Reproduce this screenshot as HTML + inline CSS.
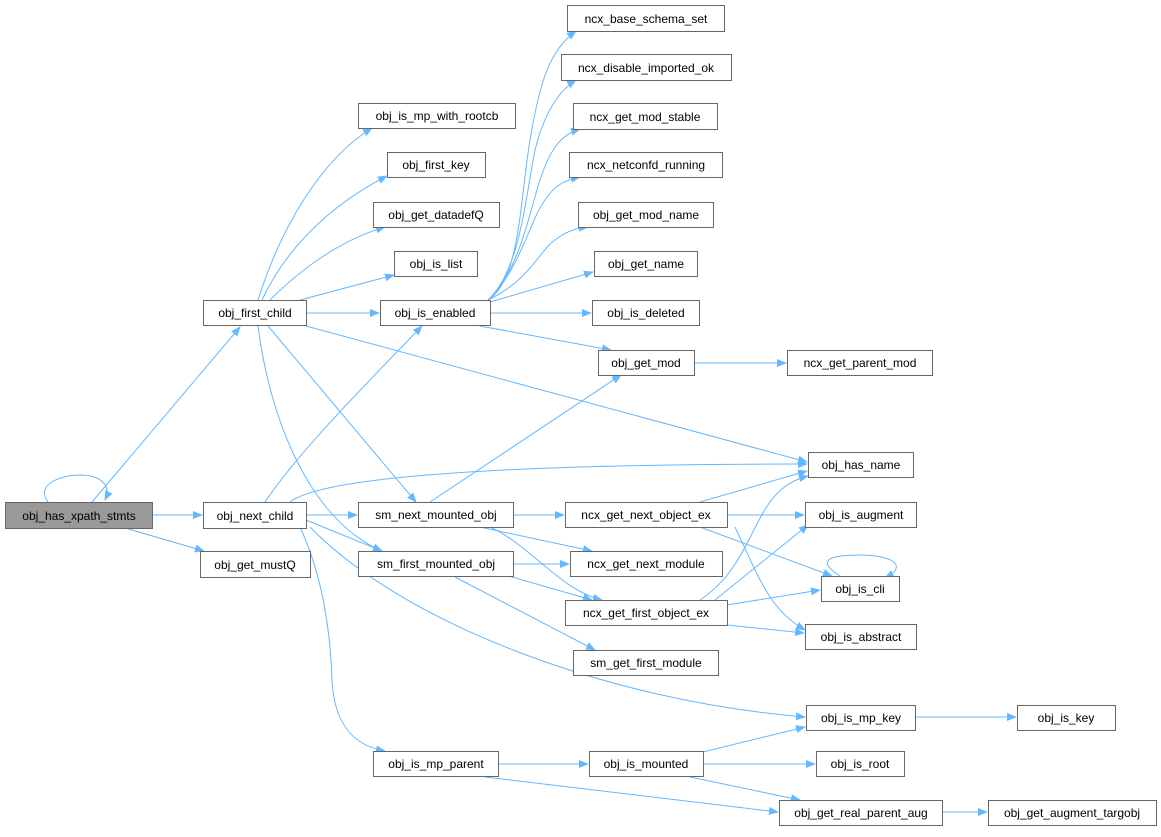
<!DOCTYPE html>
<html><head><meta charset="utf-8"><style>
html,body{margin:0;padding:0;background:#fff;}
svg text{font-family:"Liberation Sans",Arial,sans-serif;font-size:12px;fill:#000;}
</style></head><body>
<svg width="1161" height="832" viewBox="0 0 1161 832" xmlns="http://www.w3.org/2000/svg">
<defs><marker id="a" markerWidth="10" markerHeight="8" refX="9" refY="4" orient="auto" markerUnits="userSpaceOnUse"><path d="M0,0 L10,4 L0,8 Z" fill="#63b8ff"/></marker></defs>
<g fill="none" stroke="#63b8ff" stroke-width="1" marker-end="url(#a)">
<path d="M48,502 C35,485 60,475 80,475 C100,475 112,485 105,500"/>
<path d="M92,502 L240,327"/>
<path d="M152,515 L202,515"/>
<path d="M125,528 L204,551"/>
<path d="M258,300 C280,230 320,160 372,128"/>
<path d="M262,300 C290,240 340,200 387,176"/>
<path d="M270,300 C300,270 340,240 385,227"/>
<path d="M300,300 L394,275"/>
<path d="M306,313 L379,313"/>
<path d="M306,326 L807,462"/>
<path d="M268,326 L416,502"/>
<path d="M258,326 C270,420 310,520 382,551"/>
<path d="M488,300 C520,280 520,200 530,140 C540,80 550,50 576,31"/>
<path d="M488,300 C520,270 525,200 535,150 C545,110 560,90 576,80"/>
<path d="M488,300 C520,270 530,210 540,180 C550,150 560,135 580,129"/>
<path d="M488,300 C520,270 530,220 545,200 C555,185 565,180 580,177"/>
<path d="M488,300 C530,280 540,250 555,240 C565,232 575,228 588,227"/>
<path d="M490,302 L593,272"/>
<path d="M490,313 L591,313"/>
<path d="M480,326 L611,350"/>
<path d="M694,363 L786,363"/>
<path d="M265,502 C300,450 370,380 422,326"/>
<path d="M290,502 C330,470 600,464 807,464"/>
<path d="M306,515 L357,515"/>
<path d="M306,520 L382,551"/>
<path d="M310,527 C400,620 600,700 805,717"/>
<path d="M300,527 C320,570 330,620 332,680 C334,720 350,745 385,751"/>
<path d="M430,502 L621,375"/>
<path d="M513,515 L564,515"/>
<path d="M480,527 L592,551"/>
<path d="M490,527 C530,545 560,590 602,600"/>
<path d="M513,564 L569,564"/>
<path d="M505,575 L592,600"/>
<path d="M455,577 L595,650"/>
<path d="M700,502 L807,471"/>
<path d="M727,515 L804,515"/>
<path d="M700,527 L832,576"/>
<path d="M735,527 C760,580 770,610 805,630"/>
<path d="M700,600 C760,560 750,490 808,476"/>
<path d="M715,600 L808,525"/>
<path d="M727,605 L820,590"/>
<path d="M727,625 L804,633"/>
<path d="M840,576 C815,560 830,555 860,555 C890,555 910,565 885,578"/>
<path d="M915,717 L1016,717"/>
<path d="M498,764 L588,764"/>
<path d="M485,777 L778,812"/>
<path d="M703,752 L805,727"/>
<path d="M703,764 L815,764"/>
<path d="M690,777 L800,800"/>
<path d="M942,812 L987,812"/>
</g>
<g stroke="#666" stroke-width="1" fill="#fff">
<rect x="5.5" y="502.5" width="147" height="26" fill="#999"/>
<rect x="203.5" y="300.5" width="103" height="25"/>
<rect x="203.5" y="502.5" width="103" height="26"/>
<rect x="200.5" y="551.5" width="110" height="26"/>
<rect x="358.5" y="103.5" width="157" height="25"/>
<rect x="387.5" y="152.5" width="98" height="25"/>
<rect x="373.5" y="202.5" width="126" height="25"/>
<rect x="394.5" y="251.5" width="83" height="25"/>
<rect x="380.5" y="300.5" width="110" height="25"/>
<rect x="358.5" y="502.5" width="155" height="25"/>
<rect x="358.5" y="551.5" width="155" height="25"/>
<rect x="373.5" y="751.5" width="125" height="25"/>
<rect x="567.5" y="5.5" width="157" height="26"/>
<rect x="561.5" y="54.5" width="170" height="26"/>
<rect x="573.5" y="103.5" width="144" height="26"/>
<rect x="569.5" y="152.5" width="153" height="25"/>
<rect x="578.5" y="202.5" width="135" height="25"/>
<rect x="594.5" y="251.5" width="103" height="25"/>
<rect x="592.5" y="300.5" width="107" height="25"/>
<rect x="598.5" y="350.5" width="96" height="25"/>
<rect x="787.5" y="350.5" width="145" height="25"/>
<rect x="565.5" y="502.5" width="162" height="25"/>
<rect x="570.5" y="551.5" width="152" height="25"/>
<rect x="565.5" y="600.5" width="162" height="25"/>
<rect x="573.5" y="650.5" width="145" height="25"/>
<rect x="589.5" y="751.5" width="114" height="25"/>
<rect x="808.5" y="452.5" width="105" height="25"/>
<rect x="805.5" y="502.5" width="111" height="25"/>
<rect x="821.5" y="576.5" width="78" height="25"/>
<rect x="805.5" y="624.5" width="111" height="25"/>
<rect x="806.5" y="705.5" width="109" height="25"/>
<rect x="816.5" y="751.5" width="88" height="25"/>
<rect x="779.5" y="800.5" width="163" height="25"/>
<rect x="1017.5" y="705.5" width="98" height="25"/>
<rect x="988.5" y="800.5" width="168" height="25"/>
</g>
<g text-anchor="middle">
<text x="79" y="520">obj_has_xpath_stmts</text>
<text x="255" y="317">obj_first_child</text>
<text x="255" y="520">obj_next_child</text>
<text x="255" y="569">obj_get_mustQ</text>
<text x="437" y="120">obj_is_mp_with_rootcb</text>
<text x="436" y="169">obj_first_key</text>
<text x="436" y="219">obj_get_datadefQ</text>
<text x="436" y="268">obj_is_list</text>
<text x="435" y="317">obj_is_enabled</text>
<text x="436" y="519">sm_next_mounted_obj</text>
<text x="436" y="568">sm_first_mounted_obj</text>
<text x="436" y="768">obj_is_mp_parent</text>
<text x="646" y="23">ncx_base_schema_set</text>
<text x="646" y="72">ncx_disable_imported_ok</text>
<text x="645" y="121">ncx_get_mod_stable</text>
<text x="646" y="169">ncx_netconfd_running</text>
<text x="646" y="219">obj_get_mod_name</text>
<text x="646" y="268">obj_get_name</text>
<text x="646" y="317">obj_is_deleted</text>
<text x="646" y="367">obj_get_mod</text>
<text x="860" y="367">ncx_get_parent_mod</text>
<text x="646" y="519">ncx_get_next_object_ex</text>
<text x="646" y="568">ncx_get_next_module</text>
<text x="646" y="617">ncx_get_first_object_ex</text>
<text x="646" y="667">sm_get_first_module</text>
<text x="646" y="768">obj_is_mounted</text>
<text x="861" y="469">obj_has_name</text>
<text x="861" y="519">obj_is_augment</text>
<text x="860" y="593">obj_is_cli</text>
<text x="861" y="641">obj_is_abstract</text>
<text x="861" y="722">obj_is_mp_key</text>
<text x="860" y="768">obj_is_root</text>
<text x="861" y="817">obj_get_real_parent_aug</text>
<text x="1066" y="722">obj_is_key</text>
<text x="1072" y="817">obj_get_augment_targobj</text>
</g>
</svg>
</body></html>
